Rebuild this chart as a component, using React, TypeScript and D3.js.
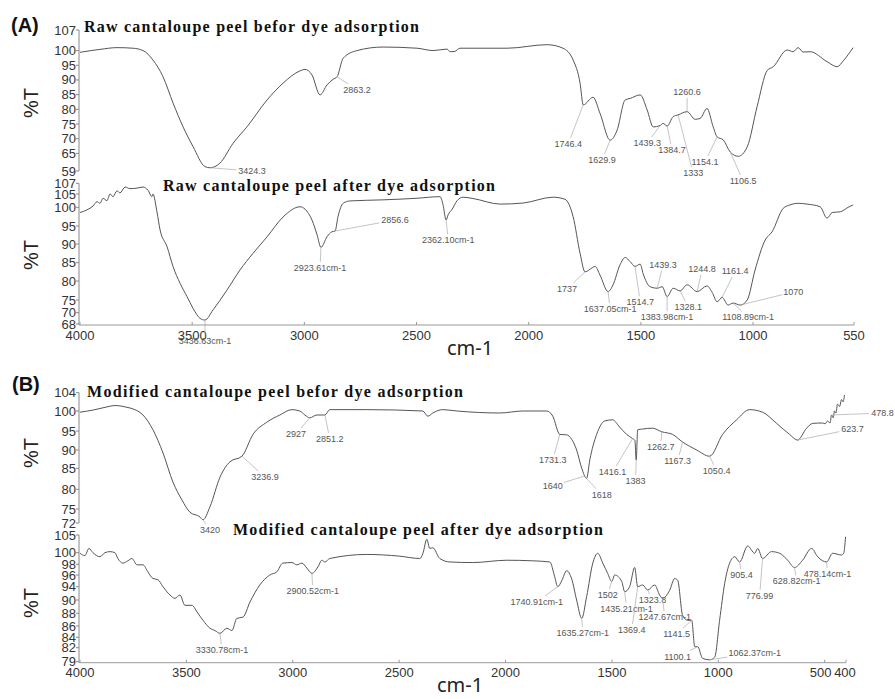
import React from 'react';
import * as d3 from 'd3';

// FTIR spectra: [wavenumber cm-1, %T]
const rawBefore: [number, number][] = [
  [4000, 99.4], [3950, 100], [3911, 100.4], [3835, 101], [3764, 100.8], [3719, 100], [3675, 96.8],
  [3630, 91.1], [3585, 82.1], [3541, 74.1], [3496, 67.3], [3443, 60.5], [3420, 60.1], [3376, 61.7],
  [3318, 68.4], [3255, 74.1], [3166, 83.2], [3095, 88.9], [3019, 93.1], [2997, 93.6], [2966, 91.7],
  [2930, 84.9], [2899, 88.3], [2872, 90.2], [2854, 91.1], [2827, 97.4], [2765, 100], [2649, 101.2],
  [2498, 100.8], [2426, 100], [2364, 100.5], [2350, 99.6], [2330, 99.7], [2306, 100.8], [2096, 100.8],
  [1918, 102], [1847, 100.8], [1802, 96.8], [1771, 88.9], [1757, 81.5], [1713, 84.1], [1682, 78.6],
  [1637, 69.5], [1606, 72.9], [1570, 83.2], [1548, 83.7], [1503, 84.9], [1472, 79.8], [1445, 74],
  [1414, 74.5], [1401, 75.2], [1383, 74.3], [1356, 77.5], [1334, 78.1], [1294, 79.2], [1258, 76.6],
  [1236, 76.9], [1205, 80.3], [1178, 74.1], [1160, 70.6], [1133, 69.6], [1102, 65.5], [1066, 64],
  [1026, 67.2], [982, 80.9], [937, 93.2], [910, 94.5], [848, 100.2], [821, 99.6], [799, 101],
  [777, 99.5], [745, 99.6], [670, 96.2], [625, 94.5], [598, 96.5], [554, 101],
];

const rawAfter: [number, number][] = [
  [4000, 98.6], [3969, 99.3], [3942, 100.5], [3924, 102.1], [3911, 101.5], [3897, 103.4], [3880, 102.5],
  [3866, 105], [3853, 104], [3835, 105.6], [3822, 105.2], [3799, 106.3], [3777, 106], [3746, 106.1],
  [3719, 106.3], [3697, 105.7], [3679, 104], [3675, 105], [3657, 98.8], [3643, 93.9], [3612, 89.3],
  [3585, 83.9], [3554, 79.4], [3523, 75.9], [3496, 71.7], [3465, 69], [3443, 68.7], [3407, 71.1],
  [3345, 77.6], [3287, 83], [3229, 87.5], [3166, 92], [3095, 97.4], [3019, 100.2], [2997, 99.5],
  [2966, 96.6], [2943, 92.5], [2926, 89.1], [2899, 92], [2877, 93.4], [2863, 93.6], [2850, 97.5],
  [2827, 101.5], [2796, 102.4], [2649, 102.8], [2498, 103.4], [2395, 104], [2382, 101], [2368, 96.6],
  [2359, 98], [2341, 99.5], [2319, 102.5], [2292, 103.8], [2248, 103.3], [2127, 101.2], [2025, 101.6],
  [1891, 103.8], [1838, 103], [1802, 97.5], [1771, 87.5], [1749, 82.5], [1717, 83.6], [1704, 84],
  [1682, 81.6], [1646, 77.2], [1624, 79], [1593, 84.4], [1570, 86.4], [1548, 85.3], [1526, 84],
  [1503, 84.6], [1490, 82], [1459, 78.5], [1427, 78.1], [1405, 78.5], [1383, 75.9], [1356, 78.1],
  [1325, 77.4], [1294, 79], [1249, 77.2], [1205, 78.7], [1182, 77], [1160, 74.3], [1138, 75.7],
  [1111, 73], [1089, 73.8], [1057, 73], [1026, 75], [991, 83], [946, 91.1], [915, 93.4], [866, 99.7],
  [835, 100.9], [799, 101.5], [759, 101.2], [701, 100.2], [670, 97.1], [647, 98.6], [611, 98.8],
  [576, 100], [554, 100.9],
];

const modBefore: [number, number][] = [
  [4000, 99.7], [3939, 100.2], [3873, 100.9], [3836, 101.2], [3779, 100.8], [3742, 100.3], [3704, 99],
  [3657, 95.3], [3610, 89.2], [3563, 81.7], [3521, 77.3], [3483, 74.3], [3436, 73.3], [3422, 72.7],
  [3389, 75.6], [3342, 82.9], [3295, 86.8], [3239, 88.3], [3187, 94.1], [3122, 97.2], [3061, 99],
  [3004, 100.3], [2967, 100], [2943, 99], [2920, 98.3], [2887, 99], [2849, 99], [2826, 100.3],
  [2652, 100.3], [2389, 100], [2365, 98.7], [2342, 99.5], [2295, 100.3], [2229, 100], [2027, 99.5],
  [1919, 100], [1806, 100], [1778, 98.7], [1745, 94.1], [1713, 94], [1689, 92.8], [1666, 90],
  [1642, 85], [1619, 82.6], [1604, 87.3], [1572, 94.1], [1534, 97.5], [1497, 97.8], [1464, 96],
  [1431, 94.1], [1403, 93], [1392, 92.5], [1386, 87.3], [1379, 95.3], [1356, 95.5], [1309, 95.7],
  [1266, 94.8], [1215, 94.1], [1168, 92.1], [1102, 90], [1041, 88.3], [980, 94.1], [914, 97.8],
  [853, 100.3], [792, 99.7], [726, 96.9], [665, 94.1], [628, 92.6], [585, 95.7], [557, 96.9],
  [510, 97], [498, 96.8], [487, 97.5], [475, 97], [468, 99], [460, 98.3], [454, 100], [447, 99.5],
  [440, 101.5], [430, 101], [421, 102.5], [414, 102], [407, 103.5],
];

const modAfter: [number, number][] = [
  [4000, 99.9], [3977, 99.5], [3958, 101.2], [3939, 100], [3906, 99.3], [3883, 100], [3859, 100.3],
  [3836, 100], [3822, 99], [3798, 98.2], [3775, 98.6], [3756, 99], [3732, 97.9], [3704, 97.9],
  [3681, 96.6], [3657, 95.4], [3634, 95.2], [3610, 94], [3577, 91.5], [3554, 90.5], [3530, 91.5],
  [3507, 89.2], [3474, 89.2], [3450, 88.2], [3422, 86.9], [3389, 85.6], [3366, 85.2], [3342, 84.7],
  [3310, 85.6], [3286, 85.2], [3263, 87.2], [3234, 87.4], [3201, 89.7], [3155, 94.3], [3108, 96],
  [3075, 96.6], [3047, 98.2], [3004, 98.3], [2981, 97.9], [2957, 98.2], [2934, 97.3], [2910, 96.3],
  [2882, 97.5], [2863, 98.7], [2849, 98.4], [2826, 99], [2652, 99.7], [2497, 99.4], [2403, 99],
  [2389, 99.8], [2370, 103.8], [2356, 101.2], [2342, 101.4], [2309, 99], [2262, 98.4], [2154, 98.3],
  [1994, 98.7], [1872, 98.6], [1792, 98.4], [1769, 95.7], [1755, 94], [1736, 95], [1713, 96.8],
  [1689, 95.3], [1666, 90], [1642, 87.2], [1619, 91], [1590, 98.2], [1567, 99.9], [1543, 98.2],
  [1520, 96.3], [1501, 94.9], [1487, 96], [1454, 94.9], [1440, 92.5], [1417, 94], [1393, 97.4],
  [1379, 94], [1356, 94.3], [1332, 93], [1299, 94.3], [1276, 91.5], [1262, 90.5], [1229, 92.9],
  [1205, 95.4], [1191, 95.1], [1168, 87.7], [1144, 86.9], [1125, 86.9], [1111, 82.2], [1097, 82.2],
  [1074, 79.7], [1041, 79.4], [1017, 80], [994, 86.9], [970, 94.6], [947, 98.2], [923, 99.3],
  [900, 98.4], [862, 101.9], [829, 99.9], [815, 101.2], [792, 99], [750, 100.3], [712, 99.9],
  [674, 98.7], [642, 97.4], [604, 98.7], [562, 101.2], [533, 99.3], [491, 98.4], [463, 99.9],
  [421, 99.6], [411, 99.9], [402, 104.5],
];

// tick labels
const yTicksA1 = [59, 65, 70, 75, 80, 85, 90, 95, 100, 107];
const yTicksA2 = [68, 70, 75, 80, 85, 90, 95, 100, 105, 107];
const yTicksB1 = [72, 75, 80, 85, 90, 95, 100, 104];
const yTicksB2 = [79, 82, 84, 86, 88, 90, 94, 96, 98, 100, 105];
const xTicksA = [4000, 3500, 3000, 2500, 2000, 1500, 1000, 550];
const xTicksB = [4000, 3500, 3000, 2500, 2000, 1500, 1000, 500, 400];

// peak labels: [text, peak wavenumber, label wavenumber, label %T]
const peaksA1: [string, number, number, number][] = [
  ['3424.3', 3420, 3233, 59], ['2863.2', 2854, 2765, 86.6], ['1746.4', 1757, 1824, 68.2],
  ['1629.9', 1637, 1673, 62.7], ['1439.3', 1414, 1472, 68.5], ['1384.7', 1383, 1361, 66.1],
  ['1333', 1334, 1267, 58.3], ['1260.6', 1294, 1294, 85.9], ['1154.1', 1160, 1214, 62.1],
  ['1106.5', 1102, 1044, 55.6],
];
const peaksA2: [string, number, number, number][] = [
  ['3436.63cm-1', 3443, 3443, 65], ['2923.61cm-1', 2926, 2930, 83.6], ['2856.6', 2863, 2596, 96.6],
  ['2362.10cm-1', 2368, 2359, 91.1], ['1737', 1749, 1829, 77.9], ['1637.05cm-1', 1646, 1637, 71.5],
  ['1514.7', 1526, 1503, 74.2], ['1439.3', 1427, 1401, 84.4], ['1383.98cm-1', 1383, 1383, 69.2],
  ['1328.1', 1325, 1289, 72.2], ['1244.8', 1249, 1227, 83.3], ['1161.4', 1138, 1080, 82.7],
  ['1108.89cm-1', 1089, 1022, 69.2], ['1070', 1057, 821, 77.1],
];
const peaksB1: [string, number, number, number][] = [
  ['3420', 3422, 3389, 70.5], ['3236.9', 3239, 3131, 82.9], ['2927', 2920, 2985, 94.2],
  ['2851.2', 2849, 2826, 92.9], ['1731.3', 1745, 1778, 87.3], ['1640', 1625, 1778, 80.8],
  ['1618', 1619, 1548, 78.6], ['1416.1', 1403, 1497, 84.1], ['1383', 1386, 1389, 82],
  ['1262.7', 1266, 1271, 90.8], ['1167.3', 1168, 1191, 87], ['1050.4', 1041, 1008, 84.4],
  ['623.7', 628, 369, 95.5], ['478.8', 468, 228, 99.5],
];
const peaksB2: [string, number, number, number][] = [
  ['3330.78cm-1', 3342, 3333, 81.5], ['2900.52cm-1', 2910, 2906, 92.7], ['1740.91cm-1', 1755, 1853, 89.7],
  ['1635.27cm-1', 1642, 1637, 84.8], ['1502', 1501, 1520, 91.5], ['1435.21cm-1', 1440, 1431, 88.7],
  ['1369.4', 1379, 1407, 85.3], ['1323.8', 1332, 1309, 90], ['1247.67cm-1', 1262, 1252, 87.4],
  ['1141.5', 1125, 1196, 84.6], ['1100.1', 1097, 1191, 80.1], ['1062.37cm-1', 1041, 829, 80.9],
  ['905.4', 900, 891, 96], ['776.99', 792, 806, 91.2], ['628.82cm-1', 642, 632, 94.9],
  ['478.14cm-1', 491, 487, 96.2],
];

const titles = [
  'Raw cantaloupe peel befor dye adsorption',
  'Raw cantaloupe peel after dye adsorption',
  'Modified cantaloupe peel befor dye adsorption',
  'Modified cantaloupe peel after dye adsorption',
];

const SANS = 'Arial, "Liberation Sans", sans-serif';
const SERIF = '"Liberation Serif", "Times New Roman", serif';
const LINE = '#555';

function valueAt(data: [number, number][], wn: number) {
  for (let i = 0; i < data.length - 1; i++) {
    const [w0, t0] = data[i];
    const [w1, t1] = data[i + 1];
    if (wn <= w0 && wn >= w1) return t0 + ((t1 - t0) * (w0 - wn)) / (w0 - w1);
  }
  return data[data.length - 1][1];
}

function Spectrum({ data, x, y, yTicks, peaks, xTicks, pctY }: any) {
  const line = d3.line<[number, number]>()
    .x(d => x(d[0]))
    .y(d => y(d[1]))
    .curve(d3.curveMonotoneX);
  const axisX = x.range()[0] - 1;
  const top = y(d3.max(yTicks) as number);
  const bottom = y(d3.min(yTicks) as number);
  const xAxisY = bottom + 1;

  return (
    <g>
      <text transform={`translate(31,${pctY}) rotate(-90)`} textAnchor="middle" dominantBaseline="central"
        fontFamily={SANS} fontSize={20} fill="#222">%T</text>
      <line x1={axisX} x2={axisX} y1={top} y2={xTicks ? xAxisY : bottom} stroke="#888" strokeWidth={1} />
      {yTicks.map((t: number) => (
        <g key={t}>
          <line x1={axisX - 3} x2={axisX} y1={y(t)} y2={y(t)} stroke="#888" />
          <text x={axisX - 3} y={y(t)} textAnchor="end" dominantBaseline="central"
            fontFamily={SANS} fontSize={13} fill="#333">{t}</text>
        </g>
      ))}
      {xTicks && (
        <g>
          <line x1={axisX} x2={x.range()[1]} y1={xAxisY} y2={xAxisY} stroke="#999" />
          {xTicks.map((t: number) => (
            <g key={t}>
              <line x1={x(t)} x2={x(t)} y1={xAxisY - 3} y2={xAxisY} stroke="#999" />
              <text x={x(t) + (t === 500 ? -4 : t === 400 ? -1 : 0)} y={xAxisY + 10} textAnchor="middle"
                dominantBaseline="central" fontFamily={SANS} fontSize={13} fill="#333">{t}</text>
            </g>
          ))}
        </g>
      )}
      <path d={line(data) as string} fill="none" stroke={LINE} strokeWidth={1} />
      {peaks.map(([label, wn, lwn, lt]: [string, number, number, number], i: number) => {
        const cx = x(wn);
        const cy = y(valueAt(data, wn));
        const lx = x(lwn);
        const ly = y(lt);
        const tw = label.length * 4.7;
        const dx = cx - lx;
        const dy = cy - ly;
        const t = Math.min((tw / 2 + 1.5) / Math.max(Math.abs(dx), 1e-6), 6 / Math.max(Math.abs(dy), 1e-6));
        const ex = t < 1 ? lx + dx * t : lx;
        const ey = t < 1 ? ly + dy * t : ly;
        return (
          <g key={i}>
            <line x1={cx} y1={cy} x2={ex} y2={ey} stroke="#aaa" strokeWidth={0.7} />
            <text x={lx} y={ly} textAnchor="middle" dominantBaseline="central"
              fontFamily={SANS} fontSize={9} fill="#555">{label}</text>
          </g>
        );
      })}
    </g>
  );
}

export default function App() {
  const xA = d3.scaleLinear().domain([4000, 550]).range([80, 854]);
  const xB = d3.scaleLinear().domain([4000, 400]).range([80, 846]);

  const yA1 = d3.scaleLinear().domain([59, 107]).range([171, 30]);
  const yA2 = d3.scaleLinear().domain(yTicksA2)
    .range([324, 312.7, 300, 281, 262.7, 244, 226, 207.3, 194, 183.3]);
  const yB1 = d3.scaleLinear().domain(yTicksB1)
    .range([523, 509, 489.3, 468.3, 450, 431, 411, 392.7]);
  const yB2 = d3.scaleLinear().domain(yTicksB2)
    .range([661.7, 647.7, 637.3, 626, 613.3, 600, 586.7, 575, 564.3, 552.7, 535]);

  const titleBox = [
    { x: 84, y: 32, w: 335 },
    { x: 163, y: 191, w: 332 },
    { x: 87, y: 397, w: 376 },
    { x: 233, y: 535, w: 370 },
  ];

  return (
    <svg width={895} height={699} style={{ position: 'absolute', left: 0, top: 0, background: '#fff' }}>
      <rect width={895} height={699} fill="#fff" />
      <text x={11} y={32} fontFamily={SANS} fontWeight="bold" fontSize={20} fill="#111">(A)</text>
      <text x={12} y={391} fontFamily={SANS} fontWeight="bold" fontSize={20} fill="#111">(B)</text>

      <Spectrum data={rawBefore} x={xA} y={yA1} yTicks={yTicksA1} peaks={peaksA1} pctY={103} />
      <Spectrum data={rawAfter} x={xA} y={yA2} yTicks={yTicksA2} peaks={peaksA2} xTicks={xTicksA} pctY={255} />
      <Spectrum data={modBefore} x={xB} y={yB1} yTicks={yTicksB1} peaks={peaksB1} pctY={453} />
      <Spectrum data={modAfter} x={xB} y={yB2} yTicks={yTicksB2} peaks={peaksB2} xTicks={xTicksB} pctY={603} />

      {titles.map((t, i) => (
        <text key={t} x={titleBox[i].x} y={titleBox[i].y} textLength={titleBox[i].w} lengthAdjust="spacing"
          fontFamily={SERIF} fontWeight="bold" fontSize={16} fill="#111">{t}</text>
      ))}

      <text x={470} y={355} textAnchor="middle" fontFamily='"Noto Sans", "Open Sans", sans-serif' fontSize={20} fill="#222">cm-1</text>
      <text x={460} y={692} textAnchor="middle" fontFamily='"Noto Sans", "Open Sans", sans-serif' fontSize={20} fill="#222">cm-1</text>
    </svg>
  );
}
